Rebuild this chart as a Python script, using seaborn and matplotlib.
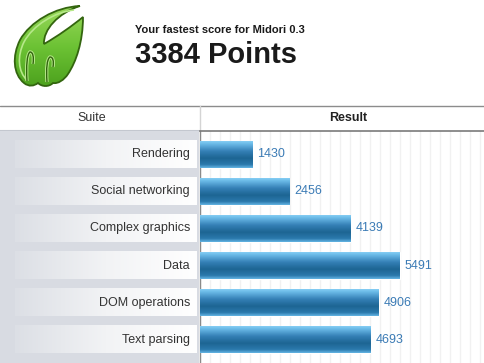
import numpy as np
import pandas as pd
import matplotlib
matplotlib.use("Agg")
import matplotlib.pyplot as plt
import seaborn as sns
from matplotlib.colors import LinearSegmentedColormap
from matplotlib.path import Path
from matplotlib.patches import PathPatch

# data
suites = ["Rendering", "Social networking", "Complex graphics", "Data",
          "DOM operations", "Text parsing"]
results = [1430, 2456, 4139, 5491, 4906, 4693]
browser = "Midori 0.3"
total_points = 3384

df = pd.DataFrame({"Suite": suites, "Result": results})

sns.set_theme(style="white")
plt.rcParams["font.family"] = ["Liberation Sans", "DejaVu Sans"]

W, H = 484, 363
fig = plt.figure(figsize=(W / 100, H / 100), dpi=100)

# background axes in pixel units (header, logo, lines)
bg = fig.add_axes([0, 0, 1, 1])
bg.set_xlim(0, W)
bg.set_ylim(H, 0)
bg.axis("off")

# logo (rough midori leaf)
M, C = Path.MOVETO, Path.CURVE4
verts = [(80, 6),
         (55, 7), (30, 22), (20, 40),
         (12, 56), (13, 74), (24, 83),
         (29, 87), (34, 86), (38, 83),
         (42, 87), (49, 87), (53, 83),
         (58, 84), (64, 80), (68, 74),
         (76, 62), (83, 42), (83, 17),
         (72, 26), (58, 36), (44, 44),
         (43, 30), (58, 13), (80, 6)]
codes = [M] + [C] * (len(verts) - 1)
leaf = PathPatch(Path(verts, codes), facecolor="none", edgecolor="#33650f",
                 lw=1.3, zorder=3)
bg.add_patch(leaf)
green = LinearSegmentedColormap.from_list("g", ["#9ad95c", "#6cc234", "#4a9f1c"])
gimg = bg.imshow(np.linspace(0, 1, 64).reshape(-1, 1), extent=(10, 86, 90, 4),
                 aspect="auto", cmap=green, zorder=2)
gimg.set_clip_path(leaf)
rim = Path([(74, 10), (55, 12), (33, 25), (24, 42), (17, 56), (18, 72), (27, 80)],
           [M, C, C, C, C, C, C])
bg.add_patch(PathPatch(rim, facecolor="none", edgecolor="#b6e889", lw=1.2, zorder=4))
for toe in ([(27, 81), (26, 66), (27, 54), (30, 52), (33, 52), (34, 57), (33, 64)],
            [(47, 82), (46, 68), (47, 59), (50, 57), (53, 57), (54, 61), (53, 67)]):
    p = Path(toe, [M, C, C, C, C, C, C])
    bg.add_patch(PathPatch(p, facecolor="none", edgecolor="#b6e889", lw=2.4, zorder=4))
    bg.add_patch(PathPatch(p, facecolor="none", edgecolor="#33650f", lw=1.0, zorder=5))
bg.set_xlim(0, W)
bg.set_ylim(H, 0)

bg.text(135, 33, "Your fastest score for " + browser, fontsize=8, fontweight="bold",
        color="#1a1a1a")
bg.text(135, 63, f"{total_points} Points", fontsize=21, fontweight="bold",
        color="#1a1a1a")

# table header
bg.plot([0, W], [105.5, 105.5], color="#8c8c8c", lw=1)
bg.plot([0, 199], [131, 131], color="#c3c7cf", lw=1.5)
bg.plot([199.5, 199.5], [105.5, 131], color="#d4d4d4", lw=1)
bg.text(92, 118, "Suite", fontsize=9, color="#333333", ha="center", va="center")
bg.text(348, 118, "Result", fontsize=9, fontweight="bold", color="#222222",
        ha="center", va="center")

ylo, yhi = 5.635, -0.635
bw = 0.73

# left column with label boxes
ax_lab = fig.add_axes([0, 0, 199 / W, 232 / H])
ax_lab.set_facecolor("#d8dbe2")
for s in ax_lab.spines.values():
    s.set_visible(False)
ax_lab.set_xticks([])
ax_lab.set_yticks([])
lab_cmap = LinearSegmentedColormap.from_list("lab", ["#dcdfe5", "#f2f3f5", "#ffffff"])
hgrad = np.linspace(0, 1, 256).reshape(1, -1)
for i, name in enumerate(suites):
    ax_lab.imshow(hgrad, extent=(15, 197, i + bw / 2, i - bw / 2), aspect="auto",
                  cmap=lab_cmap, zorder=2)
    ax_lab.text(190, i, name, fontsize=9, color="#333333", ha="right",
                va="center", zorder=3)
ax_lab.set_xlim(0, 199)
ax_lab.set_ylim(ylo, yhi)

# result bars
ax = fig.add_axes([200 / W, 0, 284 / W, 232 / H])
sns.barplot(data=df, x="Result", y="Suite", orient="h", ax=ax, width=bw,
            color="#2a78ab", saturation=1)
bar_cmap = LinearSegmentedColormap.from_list(
    "bar", [(0, "#8fd4f6"), (0.12, "#6cbce9"), (0.4, "#347fb5"),
            (0.65, "#1d6593"), (0.88, "#2b79ac"), (1, "#62b3e2")])
vgrad = np.linspace(0, 1, 64).reshape(-1, 1)
for patch in ax.patches:
    x0, y0 = patch.get_x(), patch.get_y()
    w, h = patch.get_width(), patch.get_height()
    im = ax.imshow(vgrad, extent=(x0, x0 + w, y0 + h, y0), aspect="auto",
                   cmap=bar_cmap, zorder=3)
    im.set_clip_path(patch)
ax.bar_label(ax.containers[0], padding=3.6, color="#3b7bb5", fontsize=9)

xmax = 7800
ax.set_xlim(0, xmax)
ax.set_ylim(ylo, yhi)
ax.set_xticks(np.arange(0, xmax, 274.5))
ax.set_yticks([])
ax.grid(axis="x", color="#f1f1f1", lw=1)
ax.set_axisbelow(True)
ax.tick_params(labelbottom=False, labelleft=False, length=0)
ax.set_xlabel("")
ax.set_ylabel("")
for k in ["right", "bottom"]:
    ax.spines[k].set_visible(False)
ax.spines["left"].set_color("#8a8a8a")
ax.spines["top"].set_color("#7a7a7a")
ax.spines["left"].set_linewidth(1)
ax.spines["top"].set_linewidth(1.2)

fig.savefig("out.png", dpi=100)
